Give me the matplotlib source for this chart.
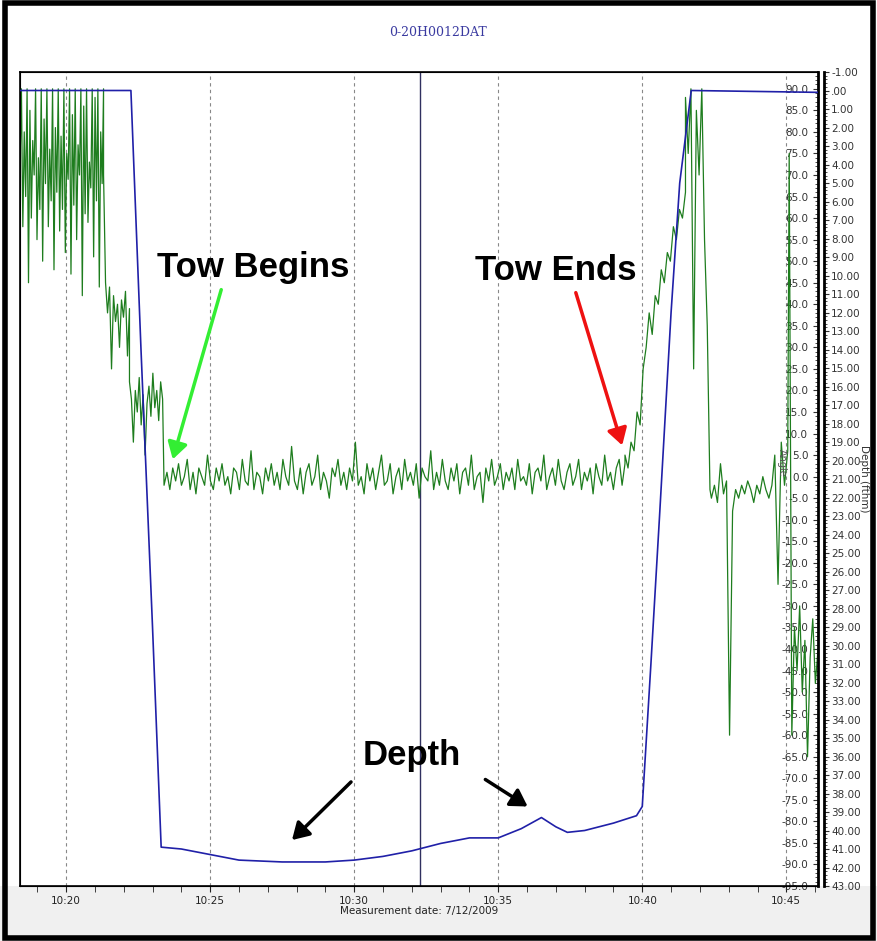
import numpy as np
import matplotlib
matplotlib.use("Agg")
import matplotlib.pyplot as plt
from matplotlib.ticker import MultipleLocator, FuncFormatter, FixedLocator
from matplotlib.patches import Rectangle

# ---- data (x in minutes after 10:00) ----
depth_t = [18.4, 22.25, 22.6, 23.0, 23.3, 24.0, 25.0, 26.0, 27.5, 29.0, 30.0, 31.0, 32.0, 33.0, 34.0, 35.0,
           35.8, 36.5, 37.0, 37.4, 38.0, 39.0, 39.8, 40.0, 40.3, 40.6, 41.0, 41.3, 41.7, 46.1]
depth_v = [0.0, 0.0, 14.0, 29.0, 40.9, 41.0, 41.3, 41.6, 41.7, 41.7, 41.6, 41.4, 41.1, 40.7, 40.4, 40.4,
           39.9, 39.3, 39.8, 40.1, 40.0, 39.6, 39.2, 38.7, 31.0, 23.0, 12.0, 5.0, 0.0, 0.1]

seg_bounds = [(18.4, 21.3), (21.3, 22.2), (22.2, 23.35), (23.4, 39.4), (39.4, 41.5),
              (41.5, 42.35), (42.4, 44.5), (44.6, 45.05), (45.1, 46.1)]
seg_vals = [
    [72, 90, 58, 80, 65, 90, 45, 85, 60, 78, 70, 90, 55, 74, 62, 90, 50, 83, 68, 90,
     58, 76, 64, 90, 48, 81, 66, 90, 57, 79, 62, 90, 52, 75, 69, 90, 47, 84, 63, 90,
     55, 77, 70, 90, 42, 86, 61, 90, 59, 73, 67, 90, 51, 88, 64, 90, 44, 80, 68, 90],
    [70, 45, 38, 44, 25, 42, 36, 40, 30, 41, 37, 43, 28, 39],
    [22, 18, 8, 20, 15, 23, 12, 19, 5, 17, 21, 14, 24, 16, 20, 13, 22, 18],
    [-2, 1, -3, 2, -1, 3, -2, 0, 4, -3, 1, -4, 2, 0, -2, 5, -1, -3, 2, -1,
     3, -2, 0, -4, 2, 1, -3, 4, -1, -2, 6, -3, 1, 0, -4, 2, -1, 3, -2, 1,
     -3, 4, 0, -2, 7, -1, -3, 2, -4, 1, 3, -2, 0, 5, -3, 1, -1, -5, 2, 0,
     4, -2, 1, -3, 2, -1, 8, -2, 0, -4, 3, -1, 2, -3, 1, 5, -2, -1, 3, -4,
     0, 2, -3, 4, -1, 1, -2, 3, -5, 2, 0, -1, 6, -3, 1, -2, 4, -1, -3, 2,
     -1, 3, -4, 1, 2, -2, 5, -3, 0, 1, -6, 2, -1, 4, -2, 0, 3, -3, 1, -1,
     2, -3, 4, -1, 0, -2, 3, -4, 1, 2, -1, 5, -3, 0, 2, -2, 4, -1, -3, 1,
     3, -2, 0, 4, -3, 1, -1, 2, -4, 3, 0, -2, 5, -1, 1, -3, 2, 4, -2, 3],
    [5, 2, 8, 6, 15, 12, 25, 30, 38, 33, 42, 40, 48, 45, 52, 50, 58, 55, 62, 60, 66],
    [88, 75, 90, 25, 85, 70, 90, 55, 35, -3],
    [-5, -2, -6, 3, -4, -1, -60, -8, -3, -5, -2, -4, -1, -3, -6, -2, -4, 0, -3, -5, -2],
    [5, -25, 8, -2, 6],
    [75, -60, -35, -45, -30, -50, -38, -65, -42, -33, -48, -40],
]
xtick_mins = [20, 25, 30, 35, 40, 45]
xtick_labels = ["10:20", "10:25", "10:30", "10:35", "10:40", "10:45"]
cursor_t = 32.3

fig = plt.figure(figsize=(8.77, 9.41), dpi=100)
fig.patch.set_facecolor("white")
fig.patches.append(Rectangle((0, 0), 1, 0.058, transform=fig.transFigure, facecolor="#f0f0f0", zorder=-5))
fig.patches.append(Rectangle((0.006, 0.003), 0.99, 0.994, transform=fig.transFigure, fill=False,
                             edgecolor="black", linewidth=4, zorder=10))

L, R, B, T = 20/877, 818/877, 1-886/941, 1-72/941
ax = fig.add_axes([L, B, R-L, T-B])
ax.set_xlim(18.4, 46.1)
ax.set_ylim(-95, 93.9)

for m in xtick_mins:
    ax.axvline(m, color="#888888", ls=(0, (3, 3)), lw=0.8, zorder=0)
ax.axvline(cursor_t, color="#303060", lw=1.0, zorder=1)

gt, gv = [], []
for (a, b), vals in zip(seg_bounds, seg_vals):
    gt.extend(np.linspace(a, b, len(vals)))
    gv.extend(vals)
ax.plot(gt, gv, color="#1e7d1e", lw=0.9, zorder=2)

ax2 = ax.twinx()
ax2.set_ylim(43, -1)
ax2.plot(depth_t, depth_v, color="#2020a8", lw=1.2, zorder=3)

ax.set_xticks(xtick_mins)
ax.set_xticklabels(xtick_labels)
ax.xaxis.set_minor_locator(MultipleLocator(1))
ax.tick_params(axis="x", which="both", labelsize=7.5, colors="#222222", length=4)
ax.set_xlabel("Measurement date: 7/12/2009", fontsize=7.5, labelpad=0, color="#222222")

ax.yaxis.set_major_locator(FixedLocator(np.arange(-95, 91, 5)))
ax.yaxis.set_minor_locator(MultipleLocator(1))
ax.yaxis.set_major_formatter(FuncFormatter(lambda v, p: f"{v:.1f}"))
ax.yaxis.tick_right()
ax.tick_params(axis="y", which="both", direction="in", right=True, left=False,
               labelright=True, labelleft=False, labelsize=7.5, pad=-7, colors="#333333")
ax.tick_params(axis="y", which="minor", length=2)
for lbl in ax.get_yticklabels():
    lbl.set_ha("right")
ax.text(0.955, 0.52, "Angle", transform=ax.transAxes, rotation=-90, fontsize=7, color="#555555",
        ha="center", va="center")

ax2.yaxis.set_major_locator(MultipleLocator(1))
ax2.yaxis.set_minor_locator(MultipleLocator(0.2))
ax2.yaxis.set_major_formatter(FuncFormatter(lambda v, p: ".00" if abs(v) < 1e-9 else f"{v:.2f}"))
ax2.tick_params(axis="y", which="both", labelsize=7.5, colors="#333333", pad=2)
ax2.tick_params(axis="y", which="minor", length=2)
ax2.spines["right"].set_position(("outward", 4))
ax2.spines["right"].set_linewidth(2)
ax.spines["right"].set_linewidth(2)
ax2.set_ylabel("Depth (fthm)", rotation=-90, fontsize=7.5, labelpad=6, color="#333333")
for s in ["top", "left", "bottom"]:
    ax.spines[s].set_linewidth(1.2)

fig.text(0.5, 1-32/941, "0-20H0012DAT", ha="center", va="center", fontsize=9,
         family="DejaVu Serif", color="#3a3aa0")

# annotations (figure pixel coordinates)
def fx(px): return px/877
def fy(py): return 1-py/941
tk = dict(fontsize=25, fontweight="bold", family="Liberation Sans", ha="center", va="center")
fig.text(fx(253), fy(268), "Tow Begins", **tk)
fig.text(fx(556), fy(270), "Tow Ends", **tk)
fig.text(fx(412), fy(756), "Depth", **tk)
def arrow(x0, y0, x1, y1, c):
    fig.add_artist(matplotlib.patches.FancyArrowPatch((fx(x0), fy(y0)), (fx(x1), fy(y1)),
                   transform=fig.transFigure, arrowstyle="-|>,head_length=5,head_width=3",
                   color=c, lw=2.5, mutation_scale=2, zorder=20))
arrow(222, 287, 172, 462, "#33ee33")
arrow(575, 290, 623, 448, "#ee1111")
arrow(353, 780, 290, 842, "black")
arrow(483, 778, 530, 808, "black")

fig.savefig("out.png", dpi=100)
